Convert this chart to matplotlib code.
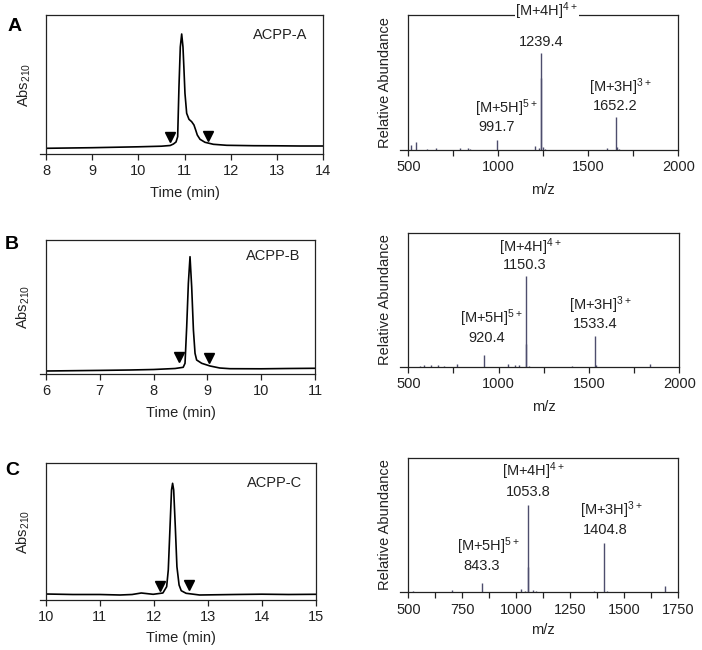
import matplotlib
matplotlib.use("Agg")
import matplotlib.pyplot as plt
from matplotlib.ticker import MultipleLocator

plt.rcParams['font.family'] = ['Liberation Sans', 'DejaVu Sans']
plt.rcParams['mathtext.fontset'] = 'custom'
plt.rcParams['mathtext.rm'] = 'Liberation Sans'
plt.rcParams['mathtext.it'] = 'Liberation Sans:italic'
plt.rcParams['mathtext.bf'] = 'Liberation Sans:bold'

TXT = '#222222'
MS_COL = '#4d4d6d'
FS = 10.5

# ---------------- chromatogram data (time in min, absorbance arb. units) ----------------
A_time = [8.0, 9.0, 10.0, 10.5, 10.69, 10.76, 10.816, 10.852, 10.88, 10.909, 10.939,
          10.967, 10.989, 11.01, 11.047, 11.097, 11.155, 11.205, 11.242, 11.277, 11.336,
          11.444, 11.625, 11.914, 12.5, 13.0, 13.5, 14.0]
A_abs = [5.7, 6.3, 7.2, 7.8, 8.5, 10.0, 12.0, 17.3, 67.0, 107.0, 120.0,
         107.0, 84.0, 60.7, 40.7, 34.7, 32.3, 29.0, 24.0, 19.0, 14.7,
         11.7, 9.7, 8.7, 8.3, 8.2, 8.0, 8.0]
A_marks_t = [10.69, 11.51]
A_marks_y = [17.5, 17.8]

B_time = [6.0, 7.0, 7.56, 8.0, 8.4, 8.55, 8.584, 8.615, 8.646, 8.677, 8.708, 8.74,
          8.77, 8.80, 8.894, 9.05, 9.23, 9.42, 10.0, 10.5, 11.0]
B_abs = [3.0, 3.6, 4.0, 4.5, 5.5, 6.7, 10.7, 47.0, 90.7, 117.3, 87.0, 44.0,
         20.7, 14.0, 10.7, 8.0, 6.0, 5.3, 5.2, 5.5, 5.7]
B_marks_t = [8.48, 9.03]
B_marks_y = [16.7, 15.7]

C_time = [10.0, 10.5, 11.0, 11.376, 11.6, 11.77, 11.99, 12.17, 12.24, 12.27, 12.30,
          12.33, 12.35, 12.37, 12.40, 12.43, 12.47, 12.51, 12.60, 12.85, 13.5, 14.0,
          14.5, 15.0]
C_abs = [6.0, 5.5, 5.5, 5.0, 5.5, 7.0, 5.7, 7.0, 13.3, 30.0, 70.0,
         110.0, 116.7, 110.0, 73.3, 33.3, 15.0, 9.3, 6.7, 5.0, 5.5, 5.8,
         5.5, 5.7]
C_marks_t = [12.12, 12.66]
C_marks_y = [14.0, 15.0]

# ---------------- mass spectra data (m/z, relative abundance arb. units) ----------------
A_mz = [515, 541, 602, 654, 787, 830, 845, 993, 1204, 1225, 1237.5, 1239.4, 1250, 1262,
        1602, 1652.2, 1660, 1672]
A_int = [5.0, 8.0, 1.5, 2.5, 2.5, 2.0, 1.5, 10.5, 4.0, 2.0, 72.0, 97.0, 3.0, 1.5,
         2.0, 33.3, 3.0, 1.5]

B_mz = [565, 585, 625, 665, 700, 771, 920.4, 1053, 1090, 1110, 1150.3, 1152, 1170,
        1404, 1533.4, 1540, 1838]
B_int = [1.0, 2.0, 1.5, 1.5, 1.0, 3.0, 11.3, 3.0, 1.5, 2.0, 90.7, 23.0, 1.0,
         1.0, 30.7, 2.0, 2.5]

C_mz = [523, 704, 843.3, 1020, 1040, 1053.8, 1056, 1076, 1090, 1361, 1404.8, 1420,
        1689]
C_int = [1.0, 2.3, 9.5, 3.0, 1.5, 87.3, 25.7, 2.5, 1.0, 1.5, 49.0, 1.0, 6.0]

# peak annotations: (text, m/z position, height position)
A_labels = [("[M+4H]$^{\\mathrm{4+}}$", 1269, 138.5), ("1239.4", 1241, 108.0),
            ("[M+5H]$^{\\mathrm{5+}}$", 1047, 41.7), ("991.7", 991, 23.3),
            ("[M+3H]$^{\\mathrm{3+}}$", 1676, 62.7), ("1652.2", 1648, 44.0)]
B_labels = [("[M+4H]$^{\\mathrm{4+}}$", 1173, 120.0), ("1150.3", 1146, 101.7),
            ("[M+5H]$^{\\mathrm{5+}}$", 961, 48.3), ("920.4", 934, 28.3),
            ("[M+3H]$^{\\mathrm{3+}}$", 1565, 61.7), ("1533.4", 1535, 42.3)]
C_labels = [("[M+4H]$^{\\mathrm{4+}}$", 1079, 120.7), ("1053.8", 1056, 100.7),
            ("[M+5H]$^{\\mathrm{5+}}$", 869, 45.7), ("843.3", 841, 26.3),
            ("[M+3H]$^{\\mathrm{3+}}$", 1442, 82.3), ("1404.8", 1411, 62.3)]

W, H = 702, 650
fig = plt.figure(figsize=(W / 100, H / 100), dpi=100)


def make_ax(x0, x1, ytop, ybot):
    ax = fig.add_axes([x0 / W, 1 - ybot / H, (x1 - x0) / W, (ybot - ytop) / H])
    return ax, ybot - ytop, x1 - x0


def style(ax, xlim, ylim_top, ext_px, width_px):
    ax.set_xlim(*xlim)
    ax.set_ylim(0, ylim_top)
    ax.set_yticks([])
    for s in ax.spines.values():
        s.set_linewidth(0.9)
        s.set_color('#222222')
    ext = (xlim[1] - xlim[0]) * ext_px / width_px
    ax.spines['bottom'].set_bounds(xlim[0] - ext, xlim[1])
    ax.tick_params(axis='x', which='both', direction='out', length=4.5, width=0.9,
                   labelsize=FS, pad=3.0, colors='#222222', labelcolor=TXT)


def chrom(ax, t, a, mt, my, xlim, hpx, wpx, name, name_pos, ylab_x, xlab_y):
    style(ax, xlim, hpx, 6, wpx)
    ax.plot(t, a, color='black', lw=1.2, solid_joinstyle='round')
    ax.plot(mt, my, linestyle='none', marker='v', markersize=7.5, color='black')
    ax.xaxis.set_major_locator(MultipleLocator(1))
    ax.text(name_pos[0], name_pos[1], name, transform=ax.transAxes, ha='right',
            va='center', fontsize=FS, color=TXT)
    ax.set_ylabel("Abs$_{\\mathrm{210}}$", fontsize=FS, color=TXT, va='center')
    ax.yaxis.set_label_coords(ylab_x, 0.5)
    ax.set_xlabel("Time (min)", fontsize=FS, color=TXT, va='center')
    ax.xaxis.set_label_coords(0.5, xlab_y)


def spec(ax, mz, inten, labels, xlim, major, minor, hpx, wpx, ylab_x, xlab_y):
    style(ax, xlim, hpx, 8, wpx)
    ax.vlines(mz, 0, inten, color=MS_COL, lw=1.0)
    ax.xaxis.set_major_locator(MultipleLocator(major))
    ax.xaxis.set_minor_locator(MultipleLocator(minor))
    for lab, x, y in labels:
        ax.text(x, y, lab, ha='center', va='center', fontsize=FS, color=TXT,
                clip_on=False, zorder=5,
                bbox=dict(boxstyle='square,pad=0.05', fc='white', ec='none'))
    ax.set_ylabel("Relative Abundance", fontsize=FS, color=TXT, va='center')
    ax.yaxis.set_label_coords(ylab_x, 0.5)
    ax.set_xlabel("m/z", fontsize=FS, color=TXT, va='center')
    ax.xaxis.set_label_coords(0.5, xlab_y)


# Row A
ax, h, w = make_ax(46, 323, 15, 154)
chrom(ax, A_time, A_abs, A_marks_t, A_marks_y, (8, 14), h, w, "ACPP-A", (0.942, 0.856), -0.078, -0.281)
ax, h, w = make_ax(408.3, 678.3, 15, 150)
spec(ax, A_mz, A_int, A_labels, (500, 2000), 500, 250, h, w, -0.086, -0.296)

# Row B
ax, h, w = make_ax(46, 315, 240, 374)
chrom(ax, B_time, B_abs, B_marks_t, B_marks_y, (6, 11), h, w, "ACPP-B", (0.944, 0.881), -0.084, -0.293)
ax, h, w = make_ax(408.3, 679.3, 232.7, 366.7)
spec(ax, B_mz, B_int, B_labels, (500, 2000), 500, 250, h, w, -0.086, -0.2985)

# Row C
ax, h, w = make_ax(45.7, 315.7, 463.3, 600)
chrom(ax, C_time, C_abs, C_marks_t, C_marks_y, (10, 15), h, w, "ACPP-C", (0.948, 0.854), -0.083, -0.28)
ax, h, w = make_ax(408.3, 678.3, 457.7, 592.3)
spec(ax, C_mz, C_int, C_labels, (500, 1750), 250, 125, h, w, -0.086, -0.28)

# panel letters
for letter, (x, y) in zip(["A", "B", "C"], [(14.5, 26.5), (12, 244.5), (12.5, 470.5)]):
    fig.text(x / W, 1 - y / H, letter, fontsize=14, fontweight='bold', ha='center',
             va='center', color='black')

fig.savefig("out.png", dpi=100)
